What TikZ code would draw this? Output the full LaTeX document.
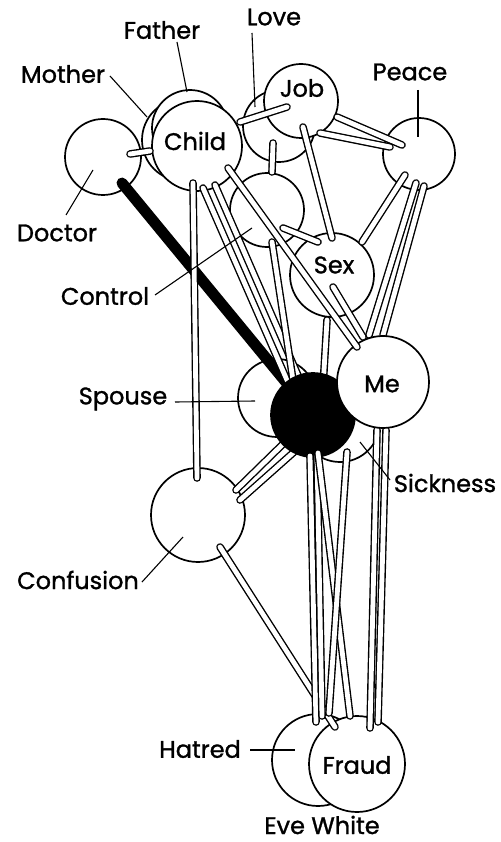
\documentclass[tikz,border=0pt]{standalone}
\usepackage{fontspec}
\setmainfont{Poppins}[FakeBold=1.2]
\usetikzlibrary{calc}

\begin{document}
\begin{tikzpicture}[x=1pt, y=-1pt,
    ball/.style={circle, draw, fill=white, line width=1.7pt, inner sep=0pt, outer sep=0pt},
    rod/.style={draw=black, line width=1.4pt, double=white, double distance=4.8pt, line cap=round},
    blackrod/.style={line width=11pt, line cap=round},
    pointer/.style={line width=1.1pt},
    word/.style={font=\fontsize{24}{26}\selectfont, inner sep=0pt}]
    \useasboundingbox (0,0) rectangle (500,842);
    % Back balls
    \node[ball, minimum size=82pt] (mother) at (183,140) {};
    \node[ball, minimum size=76pt] (father) at (190,128) {};
    \node[ball, minimum size=72pt] (love) at (279,126) {};
    \node[ball, minimum size=90pt] (child) at (197,146) {};
    \node[ball, minimum size=74pt] (job) at (301,101) {};
    \node[ball, minimum size=76pt] (doctor) at (103,157) {};
    \node[ball, minimum size=72pt] (peace) at (419,154) {};
    \node[ball, minimum size=74pt] (control) at (267,210) {};
    \node[ball, minimum size=84pt] (sex) at (332,275) {};
    \node[ball, minimum size=78pt] (spouse) at (277,398) {};
    \node[ball, minimum size=80pt] (sickness) at (340,422) {};
    \node[ball, minimum size=94pt] (confusion) at (198,515) {};
    \node[ball, minimum size=92pt] (hatred) at (318,760) {};
    \node[ball, minimum size=96pt] (fraud) at (357,764) {};
    % Rods under the core and Me
    \draw[blackrod] ([shift={(19,26)}]doctor.center) -- (313,415) coordinate (corecentre);
    \draw[rod] ([shift={(27,-3)}]doctor.center) -- ([shift={(-47,5)}]child.center);
    \draw[rod] ([shift={(-4,37)}]child.center) -- ([shift={(-1,-37)}]confusion.center);
    \draw[rod] ([shift={(6,42)}]child.center) -- ([shift={(-23,-28)}]corecentre);
    \draw[rod] ([shift={(18,39)}]child.center) -- ([shift={(-13,-35)}]corecentre);
    \draw[rod] ([shift={(43,-24)}]child.center) -- ([shift={(-14,6)}]job.center);
    \draw[rod] ([shift={(-6,17)}]love.center) -- ([shift={(5,-38)}]control.center);
    \draw[rod] ([shift={(36,16)}]job.center) -- ([shift={(-17,-9)}]peace.center);
    \draw[rod] ([shift={(19,32)}]job.center) -- ([shift={(-29,-7)}]peace.center);
    \draw[rod] ([shift={(2,26)}]job.center) -- ([shift={(0,-37)}]sex.center);
    \draw[rod] ([shift={(16,18)}]control.center) -- ([shift={(-14,-33)}]sex.center);
    \draw[rod] ([shift={(5,32)}]control.center) -- ([shift={(-20,-35)}]corecentre);
    \draw[rod] ([shift={(-5,45)}]sex.center) -- ([shift={(10,-28)}]corecentre);
    \draw[rod] ([shift={(-14,21)}]peace.center) -- ([shift={(30,-33)}]sex.center);
    \draw[rod] ([shift={(-3,29)}]peace.center) -- ([shift={(-14,-47)}]383,382);
    \draw[rod] ([shift={(5,32)}]peace.center) -- ([shift={(0,-47)}]383,382);
    \draw[rod] ([shift={(38,-25)}]confusion.center) -- ([shift={(-30,29)}]corecentre);
    \draw[rod] ([shift={(42,-15)}]confusion.center) -- ([shift={(-19,37)}]corecentre);
    \draw[rod] ([shift={(22,32)}]confusion.center) -- ([shift={(-22,-37)}]fraud.center);
    \draw[rod] ([shift={(-6,48)}]383,382) -- ([shift={(13,-36)}]fraud.center);
    \draw[rod] ([shift={(3,48)}]383,382) -- ([shift={(21,-42)}]fraud.center);
    % Core and Me
    \node[ball, fill=black, minimum size=84pt] (core) at (corecentre) {};
    \node[ball, minimum size=92pt] (me) at (383,382) {};
    % Rods over the core and Me
    \draw[rod] ([shift={(31,22)}]child.center) -- ([shift={(-26,-35)}]me.center);
    \draw[rod] ([shift={(1,12)}]sex.center) -- ([shift={(-20,-45)}]me.center);
    \draw[rod] ([shift={(-3,41)}]core.center) -- ([shift={(-2,-38)}]hatred.center);
    \draw[rod] ([shift={(4,41)}]core.center) -- ([shift={(4,-44)}]hatred.center);
    \draw[rod] ([shift={(5,38)}]core.center) -- ([shift={(-7,-48)}]fraud.center);
    \draw[rod] ([shift={(7,30)}]sickness.center) -- ([shift={(11,-47)}]hatred.center);
    % Words
    \node[word] (tfather) at (162,30) {Father};
    \node[word] (tlove) at (274,17) {Love};
    \node[word] (tmother) at (63,74) {Mother};
    \node[word] (tchild) at (195,141) {Child};
    \node[word] (tjob) at (302,88) {Job};
    \node[word] (tpeace) at (410,72) {Peace};
    \node[word] (tdoctor) at (57,233) {Doctor};
    \node[word] (tcontrol) at (105,296) {Control};
    \node[word] (tsex) at (334,265) {Sex};
    \node[word] (tspouse) at (123,399) {Spouse};
    \node[word] (tme) at (382,384) {Me};
    \node[word] (tsickness) at (445,483) {Sickness};
    \node[word] (tconfusion) at (78,580) {Confusion};
    \node[word] (thatred) at (200,749) {Hatred};
    \node[word] (tfraud) at (357,765) {Fraud};
    \node[word, anchor=base] (teve) at (322,834) {Eve White};
    % Pointers
    \draw[pointer] ([shift={(15,12)}]tfather.center) -- ([shift={(-3,-36)}]father.center);
    \draw[pointer] ([shift={(-22,16)}]tlove.center) -- ([shift={(-24,-19)}]love.center);
    \draw[pointer] ([shift={(47,2)}]tmother.center) -- ([shift={(-36,-23)}]mother.center);
    \draw[pointer] ([shift={(8,18)}]tpeace.center) -- ([shift={(-1,-17)}]peace.center);
    \draw[pointer] ([shift={(9,-18)}]tdoctor.center) -- ([shift={(-10,13)}]doctor.center);
    \draw[pointer] ([shift={(50,-1)}]tcontrol.center) -- ([shift={(-15,18)}]control.center);
    \draw[pointer] ([shift={(52,3)}]tspouse.center) -- ([shift={(-22,3)}]spouse.center);
    \draw[pointer] ([shift={(-55,-3)}]tsickness.center) -- ([shift={(20,20)}]sickness.center);
    \draw[pointer] ([shift={(64,2)}]tconfusion.center) -- ([shift={(-15,22)}]confusion.center);
    \draw[pointer] ([shift={(50,1)}]thatred.center) -- ([shift={(-23,-10)}]hatred.center);
\end{tikzpicture}
\end{document}
